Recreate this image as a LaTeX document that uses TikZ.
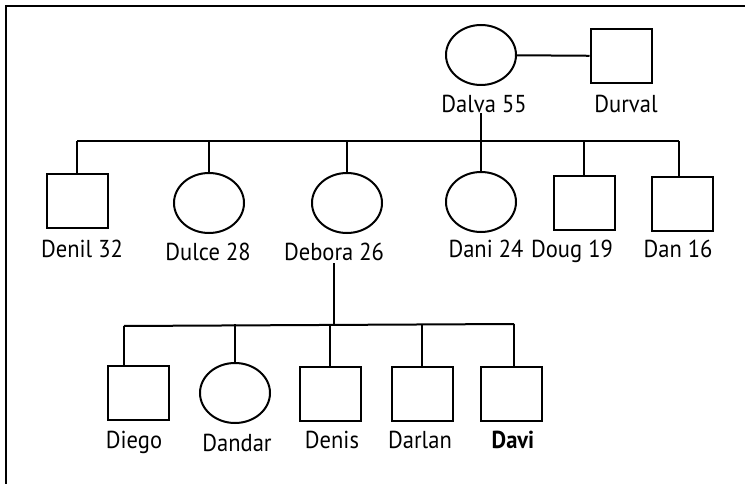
\documentclass[tikz,border=0pt]{standalone}
\usepackage{fontspec}
\setmainfont[FakeStretch=0.92]{PT Sans}
\usepackage{tikz}
\usetikzlibrary{positioning,shapes.geometric}

\begin{document}
\begin{tikzpicture}[
    x=1pt, y=-1pt,
    male/.style={draw, rectangle, line width=2pt, minimum width=61pt, minimum height=54pt},
    female/.style={draw, ellipse, line width=2pt, minimum width=70pt, minimum height=60pt},
    lbl/.style={anchor=base, inner sep=0pt, font=\fontsize{24.5}{28}\selectfont},
    line/.style={line width=2pt}
]
\useasboundingbox (0,0) rectangle (745,484);
\begin{scope}
\clip (0,0) rectangle (745,484);
\draw[line width=2.4pt] (6,6) rectangle (800,540);
\end{scope}

% grandparents
\node[female] (dalva) at (481,55) {};
\node[male] (durval) at (621,56) {};
\node[lbl] (dalvaLbl) at (484,113) {Dalva 55};
\node[lbl] (durvalLbl) at (626,113) {Durval};
\draw[line] (dalva) -- (durval);

% children
\node[male]   (denil)  at (77,201)  {};
\node[female] (dulce)  at (209,203) {};
\node[female] (debora) at (347,203) {};
\node[female] (dani)   at (481,202) {};
\node[male]   (doug)   at (584,203) {};
\node[male]   (dan)    at (682,204) {};
\node[lbl] (denilLbl)  at (82,258)  {Denil 32};
\node[lbl] (dulceLbl)  at (208,261) {Dulce 28};
\node[lbl] (deboraLbl) at (334,261) {Debora 26};
\node[lbl] (daniLbl)   at (486,258) {Dani 24};
\node[lbl] (dougLbl)   at (572,258) {Doug 19};
\node[lbl] (danLbl)    at (678,258) {Dan 16};

\coordinate (sibW) at (77,141);
\coordinate (sibE) at (679,141);
\draw[line] (sibW) -- (sibE);
\draw[line] (dalva |- dalvaLbl.base) -- (dalva |- sibW);
\foreach \c in {denil,dulce,debora,dani,doug}
  \draw[line] (\c.north) -- (\c.north |- sibW);
\draw[line] (sibE) -- (sibE |- dan.north);

% grandchildren
\node[male]   (diego)  at (138,393) {};
\node[female] (dandar) at (235,393) {};
\node[male]   (denis)  at (330,394) {};
\node[male]   (darlan) at (422,394) {};
\node[male]   (davi)   at (511,394) {};
\node[lbl] (diegoLbl)  at (134,448) {Diego};
\node[lbl] (dandarLbl) at (237,451) {Dandar};
\node[lbl] (denisLbl)  at (332,448) {Denis};
\node[lbl] (darlanLbl) at (420,448) {Darlan};
\node[lbl, font=\fontsize{24.5}{28}\selectfont\bfseries] (daviLbl) at (513,448) {Davi};

\coordinate (kidW) at (124,326);
\coordinate (kidE) at (514,324);
\draw[line] (kidW) -- (kidE);
\draw[line] (deboraLbl.south) ++(0,2) -- (deboraLbl.south |- kidE);
\draw[line] (kidW) -- (kidW |- diego.north);
\foreach \c in {dandar,denis,darlan}
  \draw[line] (\c.north) -- (\c.north |- kidE);
\draw[line] (kidE) -- (kidE |- davi.north);
\end{tikzpicture}
\end{document}
